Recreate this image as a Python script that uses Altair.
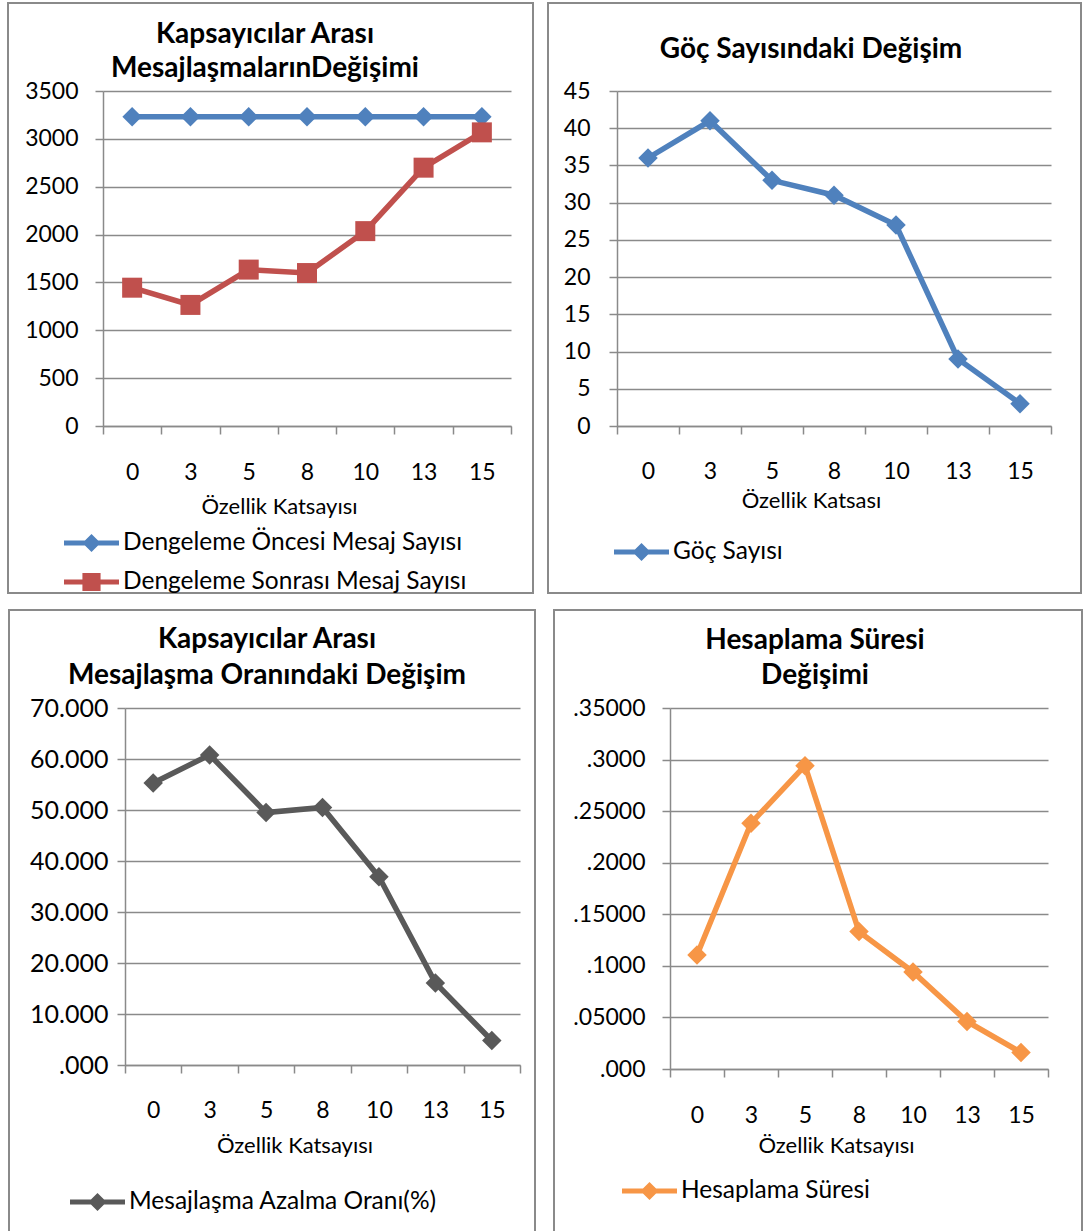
import json
import altair as alt
import pandas as pd

FONT = "Lato"
GRAY = "#8a8a8a"

X_LABELS = ["0", "3", "5", "8", "10", "13", "15"]

# Panel 1
P1_TITLE = ["Kapsayıcılar Arası", "MesajlaşmalarınDeğişimi"]
P1_SERIES = ["Dengeleme Öncesi Mesaj Sayısı", "Dengeleme Sonrası Mesaj Sayısı"]
P1_BEFORE = [3230, 3230, 3230, 3230, 3230, 3230, 3230]
P1_AFTER = [1445, 1265, 1634, 1598, 2036, 2699, 3068]
P1_YLABELS = ["0", "500", "1000", "1500", "2000", "2500", "3000", "3500"]

# Panel 2
P2_TITLE = ["Göç Sayısındaki Değişim"]
P2_SERIES = ["Göç Sayısı"]
P2_GOC = [36, 41, 33, 31, 27, 9, 3]
P2_YLABELS = ["0", "5", "10", "15", "20", "25", "30", "35", "40", "45"]

# Panel 3
P3_TITLE = ["Kapsayıcılar Arası", "Mesajlaşma Oranındaki Değişim"]
P3_SERIES = ["Mesajlaşma Azalma Oranı(%)"]
P3_RATE = [55.3, 60.8, 49.5, 50.5, 36.9, 16.1, 4.8]
P3_YLABELS = [".000", "10.000", "20.000", "30.000", "40.000", "50.000", "60.000", "70.000"]

# Panel 4
P4_TITLE = ["Hesaplama Süresi", "Değişimi"]
P4_SERIES = ["Hesaplama Süresi"]
P4_TIME = [0.1105, 0.2383, 0.2941, 0.1332, 0.0941, 0.0461, 0.016]
P4_YLABELS = [".000", ".05000", ".1000", ".15000", ".2000", ".25000", ".3000", ".35000"]

BLUE, RED, DGRAY, ORANGE = "#4F81BD", "#C0504D", "#595959", "#F79646"

# legend symbols: line segment with marker in the middle (unit coords)
LEG_DIAMOND = "M-1,-0.09L1,-0.09L1,0.09L-1,0.09Z M0,-0.33L0.33,0L0,0.33L-0.33,0Z"
LEG_SQUARE = "M-1,-0.09L1,-0.09L1,0.09L-1,0.09Z M-0.33,-0.33L0.33,-0.33L0.33,0.33L-0.33,0.33Z"

ONE = pd.DataFrame({"b": [0]})


def make_panel(cfg):
    rows = []
    for name, vals in zip(cfg["series"], cfg["values"]):
        for c, v in zip(X_LABELS, vals):
            rows.append({"k": c, "v": v, "s": name})
    df = pd.DataFrame(rows)
    w, h = cfg["w"], cfg["h"]
    xs = alt.Scale(type="band", domain=X_LABELS, paddingInner=0, paddingOuter=0)
    ys = alt.Scale(domain=[0, cfg["ymax"]], nice=False, zero=True)
    labels = cfg["ylabels"]
    step = cfg["ystep"]
    yvals = [round(i * step, 6) for i in range(len(labels))]
    label_expr = f"{json.dumps(labels)}[round(datum.value / {step})]"

    x_axis = alt.Axis(
        title=cfg["xtitle"], tickBand="extent", labelAngle=0, labelBaseline="middle",
        labelPadding=cfg["xlabpad"], titleX=w / 2 + cfg["xtitle_dx"], titleY=cfg["xtitle_y"],
        titleBaseline="middle", titleAlign="center", titleFontSize=22,
        labelFontSize=23, grid=False,
    )
    y_axis = alt.Axis(
        title=None, values=yvals, tickCount=len(yvals) + 2, labelOverlap=False,
        labelExpr=label_expr, grid=True,
        labelPadding=cfg["ylabpad"], labelFontSize=cfg["ylabfs"],
    )

    layers = []
    x0, y0, x1, y1 = cfg["rect"]
    if cfg["closed"]:
        layers.append(
            alt.Chart(ONE).mark_rect(filled=False, color=GRAY, strokeWidth=2).encode(
                x=alt.value(x0), x2=alt.value(x1), y=alt.value(y0), y2=alt.value(y1)
            )
        )
    else:
        layers.append(alt.Chart(ONE).mark_rule(color=GRAY, strokeWidth=2).encode(
            x=alt.value(x0), y=alt.value(y0), y2=alt.value(y1)))
        layers.append(alt.Chart(ONE).mark_rule(color=GRAY, strokeWidth=2).encode(
            x=alt.value(x0 - 1), x2=alt.value(x1 + 1), y=alt.value(y0)))
        layers.append(alt.Chart(ONE).mark_rule(color=GRAY, strokeWidth=2).encode(
            x=alt.value(x1), y=alt.value(y0), y2=alt.value(y1)))
    # invisible layout anchor (sets the panel's left extent)
    if cfg.get("anchor") is not None:
        layers.append(alt.Chart(ONE).mark_rule(color="white", strokeWidth=1).encode(
            x=alt.value(cfg["anchor"] + 0.5), y=alt.value(0), y2=alt.value(1)))

    # title lines
    for line, ty in zip(cfg["title"], cfg["title_y"]):
        layers.append(
            alt.Chart(ONE).mark_text(
                font=FONT, fontSize=28, fontWeight="bold", align="center",
                baseline="middle", color="#000",
            ).encode(x=alt.value(cfg["title_x"]), y=alt.value(ty), text=alt.value(line))
        )

    first = True
    for name, color in zip(cfg["series"], cfg["colors"]):
        if first:
            enc = dict(x=alt.X("k:N", scale=xs, axis=x_axis), y=alt.Y("v:Q", scale=ys, axis=y_axis))
            first = False
        else:
            enc = dict(x=alt.X("k:N", scale=xs), y=alt.Y("v:Q", scale=ys))
        layers.append(
            alt.Chart(df).transform_filter(alt.datum.s == name)
            .mark_line(strokeWidth=5.5, color=color).encode(**enc)
        )
    for name, color, shape, size in zip(cfg["series"], cfg["colors"], cfg["shapes"], cfg["sizes"]):
        layers.append(
            alt.Chart(df).transform_filter(alt.datum.s == name)
            .mark_point(filled=True, opacity=1, shape=shape, size=size, color=color)
            .encode(x=alt.X("k:N", scale=xs), y=alt.Y("v:Q", scale=ys))
        )
    leg = dict(
        orient="none", legendX=cfg["legx"], legendY=cfg["legy"], title=None, padding=0,
        labelFont=FONT, labelFontSize=24.5, labelOffset=4, labelLimit=600,
        symbolSize=3025, symbolStrokeWidth=0, rowPadding=-13, labelColor="#000",
        symbolOpacity=1,
    )
    layers.append(
        alt.Chart(df).transform_filter("false")
        .mark_point(filled=True, opacity=1, size=3025)
        .encode(
            color=alt.Color("s:N", scale=alt.Scale(domain=cfg["series"], range=cfg["colors"]),
                            legend=alt.Legend(**leg)),
            shape=alt.Shape("s:N", scale=alt.Scale(domain=cfg["series"], range=cfg["legpaths"]),
                            legend=alt.Legend(**leg)),
        )
    )
    return alt.layer(*layers).properties(width=w, height=h)


p1 = make_panel(dict(
    series=P1_SERIES, values=[P1_BEFORE, P1_AFTER], colors=[BLUE, RED],
    shapes=["diamond", "square"], sizes=[380, 400], legpaths=[LEG_DIAMOND, LEG_SQUARE],
    w=408, h=335, ymax=3500, ystep=500, ylabels=P1_YLABELS, ylabfs=23,
    xtitle="Özellik Katsayısı", xtitle_dx=-28, xtitle_y=80,
    xlabpad=38, ylabpad=17, rect=(-95, -88, 430, 502), closed=True, anchor=None,
    legx=-39, legy=424.5,
    title=P1_TITLE, title_x=162, title_y=[-56, -22],
))
p2 = make_panel(dict(
    series=P2_SERIES, values=[P2_GOC], colors=[BLUE],
    shapes=["diamond"], sizes=[380], legpaths=[LEG_DIAMOND],
    w=434, h=335, ymax=45, ystep=5, ylabels=P2_YLABELS, ylabfs=23,
    xtitle="Özellik Katsası", xtitle_dx=-23, xtitle_y=74,
    xlabpad=37, ylabpad=19, rect=(-69, -88, 464, 502), closed=True, anchor=-80,
    legx=-3, legy=433.5,
    title=P2_TITLE, title_x=194, title_y=[-41],
))
p3 = make_panel(dict(
    series=P3_SERIES, values=[P3_RATE], colors=[DGRAY],
    shapes=["diamond"], sizes=[380], legpaths=[LEG_DIAMOND],
    w=395, h=357, ymax=70, ystep=10, ylabels=P3_YLABELS, ylabfs=25,
    xtitle="Özellik Katsayısı", xtitle_dx=-28, xtitle_y=80,
    xlabpad=37, ylabpad=9, rect=(-116, -98, 410, 523), closed=False, anchor=None,
    legx=-55, legy=466.5,
    title=P3_TITLE, title_x=142, title_y=[-68.5, -32],
))
p4 = make_panel(dict(
    series=P4_SERIES, values=[P4_TIME], colors=[ORANGE],
    shapes=["diamond"], sizes=[380], legpaths=[LEG_DIAMOND],
    w=378, h=361, ymax=0.35, ystep=0.05, ylabels=P4_YLABELS, ylabfs=23,
    xtitle="Özellik Katsayısı", xtitle_dx=-23, xtitle_y=76,
    xlabpad=38, ylabpad=17, rect=(-116, -98, 412, 523), closed=False, anchor=-130,
    legx=-48, legy=455.5,
    title=P4_TITLE, title_x=145, title_y=[-67.5, -32],
))


def spacer():
    return alt.Chart(ONE).mark_rule(color="white", strokeWidth=1).encode(
        x=alt.value(0.5), y=alt.value(0), y2=alt.value(1)
    ).properties(width=1, height=1)


row1 = alt.hconcat(spacer(), p1, p2, spacing=3).resolve_scale(color="independent", shape="independent")
row2 = alt.hconcat(spacer(), p3, p4, spacing=3).resolve_scale(color="independent", shape="independent")

chart = (
    alt.vconcat(row1, row2, spacing=15)
    .resolve_scale(color="independent", shape="independent")
    .properties(padding={"left": 3, "top": 2, "right": 0, "bottom": 0})
    .configure_view(strokeWidth=0)
    .configure_axis(
        domainColor=GRAY, domainWidth=1.5, gridColor=GRAY, gridWidth=1.5,
        tickColor=GRAY, tickWidth=1.5, tickSize=8, labelFont=FONT, labelColor="#000",
        titleFont=FONT, titleFontWeight="normal", titleColor="#000",
    )
)

chart.save("out.html", embed_options={"renderer": "svg", "actions": False})
